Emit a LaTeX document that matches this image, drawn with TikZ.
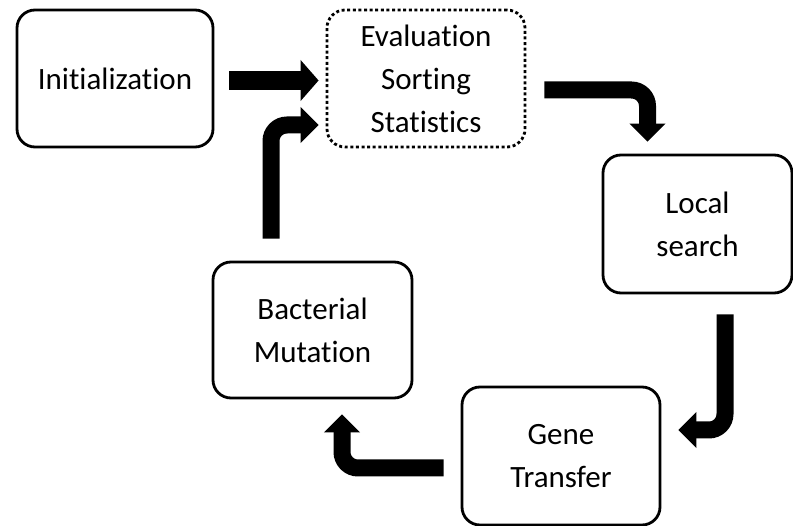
\documentclass[tikz,border=0pt]{standalone}
\usepackage{fontspec}
\setmainfont[Ligatures=NoCommon,RawFeature={-liga}]{Carlito}
\usetikzlibrary{arrows.meta,calc}
\begin{document}
\begin{tikzpicture}[x=1pt,y=-1pt,
  box/.style={draw=black,line width=2.8pt,rounded corners=18pt,align=center,
    inner sep=0pt,font=\fontsize{31}{43}\selectfont},
  dotbox/.style={box,dash pattern=on 3pt off 2.6pt},
  flow/.style={line width=17pt,draw=black,rounded corners=16pt,
    -{Triangle[length=18pt,width=35pt]}}]
\useasboundingbox (0,0) rectangle (793,526);
\node[box,minimum width=196pt,minimum height=137pt] (init) at (115,78.5) {Initialization};
\node[dotbox,minimum width=198pt,minimum height=137pt] (eval) at (426,78.5) {Evaluation\\Sorting\\Statistics};
\node[box,minimum width=189pt,minimum height=138pt] (local) at (697.5,224) {Local\\search};
\node[box,minimum width=199pt,minimum height=136pt] (bact) at (312.5,330) {Bacterial\\Mutation};
\node[box,minimum width=198pt,minimum height=138pt] (gene) at (561,456) {Gene\\Transfer};
\draw[flow,line width=19pt,-{Triangle[length=18pt,width=40pt]}] ($(init.east)+(15,2)$) -- ($(eval.west)+(-7,2)$);
\draw[flow] ($(eval.east)+(18,11.5)$) -| ($(local.north)+(-50,-12)$);
\draw[flow] ($(local.south)+(27.5,20)$) |- ($(gene.east)+(17,-26)$);
\draw[flow] ($(gene.west)+(-17,12)$) -| ($(bact.south)+(29.5,15)$);
\draw[flow] ($(bact.north)+(-41.5,-22)$) |- ($(eval.west)+(-7,46.5)$);
\end{tikzpicture}
\end{document}
